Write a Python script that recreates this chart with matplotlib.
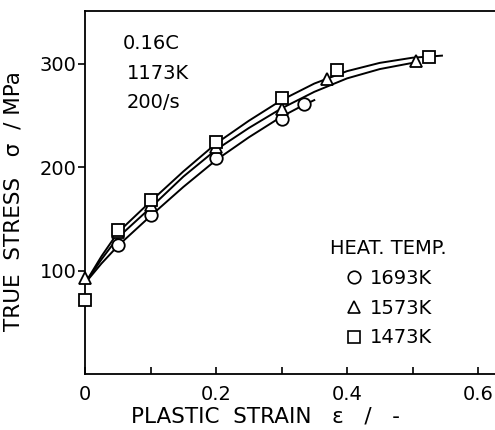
import matplotlib
matplotlib.use("Agg")
import matplotlib.pyplot as plt
from matplotlib.lines import Line2D

plt.rcParams['font.family'] = ['DejaVu Sans']

# measured points
x_1693 = [0.05, 0.10, 0.20, 0.30, 0.335]
y_1693 = [125, 154, 209, 247, 261]
x_1573 = [0.0, 0.05, 0.10, 0.20, 0.30, 0.37, 0.505]
y_1573 = [93, 137, 164, 220, 256, 285, 303]
x_1473 = [0.0, 0.05, 0.10, 0.20, 0.30, 0.385, 0.525]
y_1473 = [72, 139, 168, 224, 267, 294, 307]

# fitted curves
cx_1693 = [0.0, 0.025, 0.05, 0.10, 0.15, 0.20, 0.25, 0.30, 0.33, 0.35]
cy_1693 = [88, 107, 124, 153, 181, 207, 229, 249, 259, 265]
cx_1573 = [0.0, 0.025, 0.05, 0.10, 0.15, 0.20, 0.25, 0.30, 0.35, 0.40, 0.45, 0.50, 0.51]
cy_1573 = [88, 111, 132, 161, 191, 217, 238, 257, 273, 286, 295, 301, 302]
cx_1473 = [0.0, 0.025, 0.05, 0.10, 0.15, 0.20, 0.25, 0.30, 0.35, 0.40, 0.45, 0.50, 0.545]
cy_1473 = [88, 114, 137, 167, 196, 223, 245, 265, 281, 293, 301, 306, 308]

labels = ['1693K', '1573K', '1473K']
markers = ['o', '^', 's']

fig = plt.figure(figsize=(4.95, 4.30), dpi=100)
ax = fig.add_axes([0.172, 0.130, 0.828, 0.844])

lw = 1.4
for cx, cy in [(cx_1693, cy_1693), (cx_1573, cy_1573), (cx_1473, cy_1473)]:
    ax.plot(cx, cy, color='black', lw=lw, zorder=2)

mk = dict(markersize=9, markerfacecolor='white', markeredgecolor='black',
          markeredgewidth=1.3, linestyle='none', zorder=3, clip_on=False)
ax.plot(x_1693, y_1693, marker='o', **mk)
ax.plot(x_1573, y_1573, marker='^', **mk)
ax.plot(x_1473, y_1473, marker='s', **mk)

ax.set_xlim(0, 0.626)
ax.set_ylim(0, 351)

ax.spines['right'].set_visible(False)
for s in ['left', 'bottom', 'top']:
    ax.spines[s].set_linewidth(1.3)

ax.set_xticks([0, 0.2, 0.4, 0.6])
ax.set_xticklabels(['0', '0.2', '0.4', '0.6'])
ax.set_xticks([0.1, 0.3, 0.5], minor=True)
ax.set_yticks([100, 200, 300])
ax.tick_params(axis='x', which='both', direction='in', length=5, width=1.2,
               labelsize=14, pad=8)
ax.tick_params(axis='y', which='both', direction='out', length=5, width=1.2,
               labelsize=14, pad=1)

ax.set_xlabel('PLASTIC  STRAIN   \u03b5   /   -', fontsize=15.5)
ax.xaxis.set_label_coords(0.44, -0.09)
ax.set_ylabel('TRUE  STRESS   \u03c3  / MPa', fontsize=15.5)
ax.yaxis.set_label_coords(-0.15, 0.477)

ax.text(0.058, 320, '0.16C', fontsize=14, va='center', ha='left')
ax.text(0.064, 291, '1173K', fontsize=14, va='center', ha='left')
ax.text(0.064, 263, '200/s', fontsize=14, va='center', ha='left')

handles = [Line2D([], [], marker=m, markersize=9, markerfacecolor='white',
                  markeredgecolor='black', markeredgewidth=1.2, linestyle='none')
           for m in markers]
leg = ax.legend(handles, labels, title='HEAT. TEMP.', loc='upper left',
                bbox_to_anchor=(0.573, 0.398), frameon=False, fontsize=14,
                title_fontsize=14, handletextpad=0.3, labelspacing=0.55,
                borderpad=0, handlelength=1.0)

fig.savefig('out.png', dpi=100)
